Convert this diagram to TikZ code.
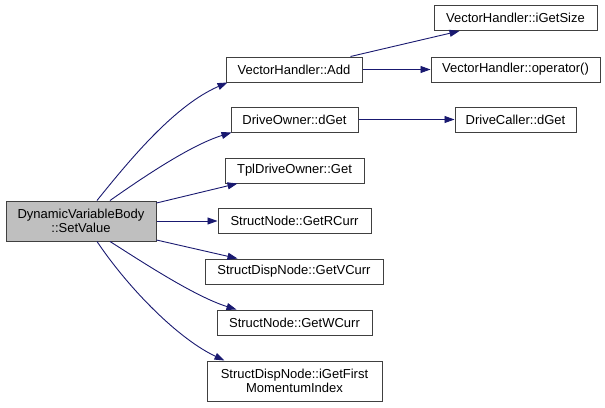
\documentclass[tikz,border=0pt]{standalone}
\usepackage{fontspec}
\setmainfont{Liberation Sans}
\usetikzlibrary{arrows.meta}
\definecolor{edgecol}{HTML}{191970}
\definecolor{rootfill}{HTML}{BFBFBF}
\definecolor{boxline}{HTML}{404040}
\tikzset{
  fn/.style={draw=boxline, line width=1pt, fill=white, inner sep=0pt, align=center,
    font=\fontsize{13}{14}\selectfont, minimum height=25pt},
  rootfn/.style={fn, fill=rootfill, minimum height=40pt},
  twoline/.style={minimum height=40pt},
  edge/.style={draw=edgecol, line width=0.9pt, -{Triangle[length=10pt,width=7pt]}}
}
\begin{document}
\begin{tikzpicture}[x=1pt,y=-1pt]
\useasboundingbox (0,0) rectangle (605,407);
\node[rootfn, minimum width=150pt] (dyn) at (81,221) {DynamicVariableBody\\::SetValue};
\node[fn, minimum width=136pt] (add) at (294,69.5) {VectorHandler::Add};
\node[fn, minimum width=127pt] (dget) at (294.5,119.5) {DriveOwner::dGet};
\node[fn, minimum width=139pt] (tpl) at (294.5,170.5) {TplDriveOwner::Get};
\node[fn, minimum width=153pt] (rcurr) at (294.5,221) {StructNode::GetRCurr};
\node[fn, minimum width=178pt] (vcurr) at (294,271.5) {StructDispNode::GetVCurr};
\node[fn, minimum width=155pt] (wcurr) at (294.5,322.5) {StructNode::GetWCurr};
\node[fn, twoline, minimum width=175pt] (ifirst) at (294.5,381) {StructDispNode::iGetFirst\\MomentumIndex};
\node[fn, minimum width=163pt] (isize) at (515.5,18) {VectorHandler::iGetSize};
\node[fn, minimum width=169pt] (oper) at (515.5,69.5) {VectorHandler::operator()};
\node[fn, minimum width=121pt] (dcaller) at (515.5,119.5) {DriveCaller::dGet};

\draw[edge] ([xshift=16pt]dyn.north) .. controls +(33,-41) and +(-53,23) .. ([xshift=2pt]add.south west);
\draw[edge] ([xshift=29pt]dyn.north) .. controls +(30,-21) and +(-42,13) .. ([xshift=1pt]dget.south west);
\draw[edge] ([yshift=18pt]dyn.east) -- ([xshift=13pt]tpl.south west);
\draw[edge] (dyn.east) -- (rcurr.west);
\draw[edge] ([yshift=-19pt]dyn.east) -- ([xshift=33pt]vcurr.north west);
\draw[edge] ([xshift=29pt]dyn.south) .. controls +(30,19) and +(-42,-13) .. ([xshift=20pt]wcurr.north west);
\draw[edge] ([xshift=16pt]dyn.south) .. controls +(33,49) and +(-45,-21) .. ([xshift=18pt]ifirst.north west);
\draw[edge] ([xshift=-12pt]add.north east) -- ([xshift=26pt]isize.south west);
\draw[edge] (add.east) -- (oper.west);
\draw[edge] (dget.east) -- (dcaller.west);
\end{tikzpicture}
\end{document}
